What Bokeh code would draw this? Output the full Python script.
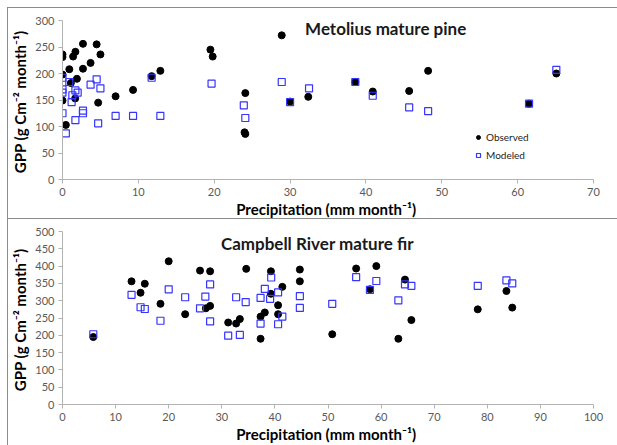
from bokeh.plotting import figure
from bokeh.models import Range1d, Label, Legend, LegendItem, FixedTicker
from bokeh.layouts import column
from bokeh.embed import file_html
from bokeh.resources import INLINE

# ---------------- data: Metolius mature pine ----------------
met_obs_x = [0, 0, 0, 0, 0.44, 0.9, 1.1, 1.4, 1.7, 1.67, 1.9, 2.7, 2.7, 3.7, 4.5, 4.7, 5.0,
             7.0, 9.3, 11.75, 12.9, 19.5, 19.8, 24.1, 24.0, 24.1, 28.9, 30.0, 32.4,
             38.6, 40.9, 45.7, 48.2, 61.5, 65.1]
met_obs_y = [236, 231, 198, 149, 103, 208, 182, 232, 241, 153, 190, 256, 209, 220, 255, 145, 236,
             157, 169, 195, 205, 245, 232, 163, 89, 86, 272, 147, 156,
             184, 166, 167, 205, 143, 200]
met_mod_x = [0, 0, 0, 0, 0.44, 0.9, 1.3, 1.7, 2.0, 1.2, 1.7, 2.7, 2.7, 3.7, 4.5, 5.0, 4.7,
             7.0, 9.3, 11.75, 12.9, 19.65, 23.9, 24.1, 28.9, 30.0, 32.5,
             38.6, 40.9, 45.7, 48.2, 61.5, 65.1]
met_mod_y = [192, 170, 164, 125, 87, 184, 159, 168, 164, 146, 112, 130, 125, 179, 189, 172, 106,
             120, 120, 192, 120, 181, 140, 116, 184, 146, 172,
             184, 158, 136, 129, 143, 207]

# ---------------- data: Campbell River mature fir ----------------
cr_obs_x = [5.8, 13.0, 14.7, 15.5, 18.45, 20.0, 23.1, 25.9, 27.8, 27.0, 27.8, 31.2, 32.7, 33.4,
            34.6, 37.3, 38.1, 37.3, 39.25, 39.25, 41.4, 40.6, 40.6, 44.7, 44.7,
            50.8, 55.3, 59.1, 57.9, 64.5, 63.25, 65.7, 78.2, 83.6, 84.7]
cr_obs_y = [195, 356, 323, 349, 291, 414, 261, 387, 385, 278, 285, 237, 234, 247,
            392, 254, 266, 190, 385, 320, 340, 287, 261, 390, 356,
            203, 393, 400, 333, 361, 190, 244, 275, 328, 280]
cr_mod_x = [5.8, 13.0, 14.7, 15.5, 18.45, 20.0, 23.1, 25.9, 26.9, 27.8, 27.8, 31.2, 33.4, 32.7,
            34.5, 37.3, 37.3, 38.1, 39.3, 39.1, 40.6, 40.6, 41.4, 44.7, 44.7,
            50.8, 55.3, 59.1, 57.9, 63.25, 64.5, 65.7, 78.2, 83.6, 84.7]
cr_mod_y = [203, 317, 281, 276, 242, 333, 310, 278, 312, 347, 240, 199, 201, 310,
            296, 308, 234, 334, 367, 305, 324, 232, 254, 313, 279,
            291, 368, 357, 331, 301, 347, 343, 343, 359, 350]

met_xticks = [0, 10, 20, 30, 40, 50, 60, 70]
met_yticks = [0, 50, 100, 150, 200, 250, 300]
cr_xticks = [0, 10, 20, 30, 40, 50, 60, 70, 80, 90, 100]
cr_yticks = [0, 50, 100, 150, 200, 250, 300, 350, 400, 450, 500]

FONT = "Lato"
AXIS_GRAY = "#b3b3b3"
TICK_TEXT = "#595959"
BLUE = "#3535ff"
YLAB = "GPP  (g Cm\u207b\u00b2 month\u207b\u00b9)"
XLAB = "Precipitation  (mm month\u207b\u00b9)"


def style(p, xt, yt):
    p.xaxis.ticker = FixedTicker(ticks=xt)
    p.yaxis.ticker = FixedTicker(ticks=yt)
    for ax in (p.xaxis, p.yaxis):
        ax.axis_line_color = AXIS_GRAY
        ax.major_tick_line_color = AXIS_GRAY
        ax.minor_tick_line_color = None
        ax.major_tick_out = 4
        ax.major_tick_in = 0
        ax.major_label_text_color = TICK_TEXT
        ax.major_label_text_font = FONT
        ax.major_label_text_font_size = "11px"
        ax.axis_label_text_font = FONT
        ax.axis_label_text_font_style = "bold"
        ax.axis_label_text_font_size = "15px"
        ax.axis_label_text_color = "black"
    p.xaxis.major_label_standoff = 4
    p.yaxis.major_label_standoff = 4
    p.xaxis.axis_label_standoff = 1
    p.yaxis.axis_label_standoff = 3
    p.xaxis.axis_label = XLAB
    p.yaxis.axis_label = YLAB
    p.xgrid.grid_line_color = None
    p.ygrid.grid_line_color = None
    p.outline_line_color = None


# ---------------- top panel ----------------
p1 = figure(width=610, height=212, output_backend="svg", toolbar_location=None,
            x_range=Range1d(0, 70), y_range=Range1d(0, 300),
            min_border_left=53, min_border_right=24, min_border_top=12, min_border_bottom=40,
            margin=(7, 0, 0, 7))
style(p1, met_xticks, met_yticks)
r1 = p1.scatter(met_obs_x, met_obs_y, marker="circle", size=7, fill_color="black", line_color="black")
r2 = p1.scatter(met_mod_x, met_mod_y, marker="square", size=7, fill_color=None, line_color=BLUE, line_width=1.2)
p1.add_layout(Label(x=42.6, y=284, text="Metolius mature pine", text_align="center",
                    text_baseline="alphabetic",
                    text_font=FONT, text_font_style="bold", text_font_size="17px", text_color="#1a1a1a"))
leg = Legend(items=[LegendItem(label="Observed", renderers=[r1]),
                    LegendItem(label="Modeled", renderers=[r2])],
             location=(411, 18), background_fill_alpha=0, border_line_color=None,
             padding=0, margin=0, spacing=6, glyph_width=10, glyph_height=12,
             label_height=12, label_standoff=3, label_text_font=FONT,
             label_text_font_size="10px", label_text_color="#222222")
p1.add_layout(leg)
p1.styles = {"border-left": "1px solid #8c8c8c", "border-top": "1px solid #8c8c8c",
             "border-bottom": "1px solid #8c8c8c"}

# ---------------- bottom panel ----------------
p2 = figure(width=610, height=226, output_backend="svg", toolbar_location=None,
            x_range=Range1d(0, 100), y_range=Range1d(0, 500),
            min_border_left=50, min_border_right=25, min_border_top=12, min_border_bottom=40,
            margin=(0, 0, 0, 7))
style(p2, cr_xticks, cr_yticks)
p2.scatter(cr_obs_x, cr_obs_y, marker="circle", size=7, fill_color="black", line_color="black")
p2.scatter(cr_mod_x, cr_mod_y, marker="square", size=7, fill_color=None, line_color=BLUE, line_width=1.2)
p2.add_layout(Label(x=48, y=466, text="Campbell River mature fir", text_align="center",
                    text_baseline="alphabetic",
                    text_font=FONT, text_font_style="bold", text_font_size="17px", text_color="#1a1a1a"))
p2.styles = {"border-left": "1px solid #8c8c8c"}

layout = column(p1, p2, spacing=0)
open("out.html", "w").write(file_html(layout, INLINE))
